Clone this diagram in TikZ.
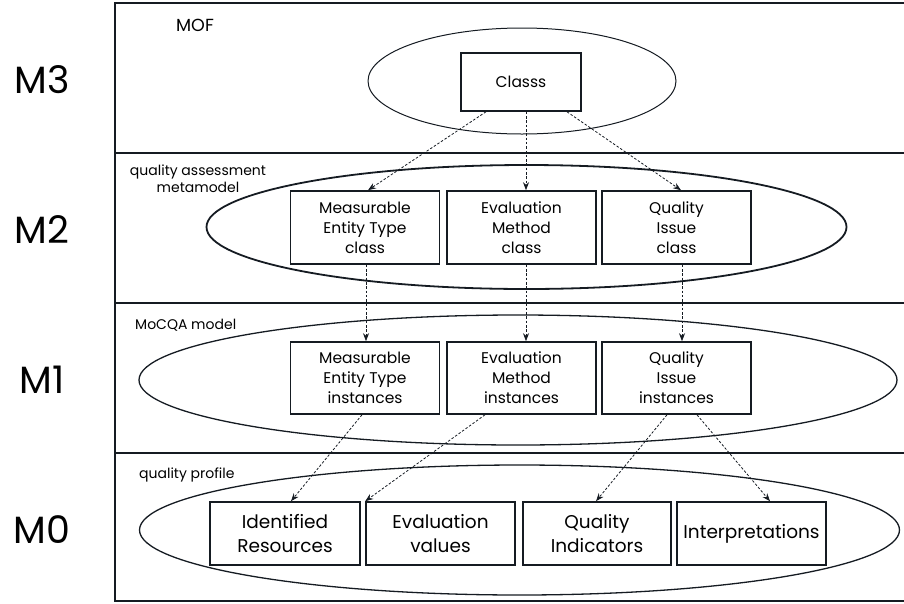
\documentclass[tikz,border=0pt]{standalone}
\usepackage{fontspec}
\setmainfont{Poppins}
\usetikzlibrary{arrows.meta,shapes.geometric}
\definecolor{ink}{HTML}{151B22}
\begin{document}
\begin{tikzpicture}[x=1pt,y=-1pt,
  frame/.style={draw=ink,line width=2.6pt},
  layer/.style={ellipse,draw=ink,line width=1.3pt,inner sep=0pt},
  cls/.style={draw=ink,line width=1.6pt,inner sep=0pt,align=center,
    minimum width=149pt,minimum height=73pt,font=\fontsize{15.5}{20}\selectfont},
  inst/.style={cls,minimum height=63pt,font=\fontsize{18.5}{24}\selectfont},
  lvl/.style={font=\fontsize{38}{40}\selectfont},
  tag/.style={font=\fontsize{14}{17}\selectfont,inner sep=0pt,align=center},
  link/.style={draw=ink,line width=0.8pt,dash pattern=on 2.5pt off 1.8pt,
    -{Stealth[length=8pt,width=6pt]}}
]
\useasboundingbox (0,0) rectangle (904,603);

% layer frame (open to the right)
\draw[frame] (910,3) -- (115,3) -- (115,601) -- (910,601);
\draw[frame] (115,153) -- (910,153);
\draw[frame] (115,303) -- (910,303);
\draw[frame] (115,453) -- (910,453);

% level names
\node[lvl] (m3) at (42,80) {M3};
\node[lvl] (m2) at (42,230) {M2};
\node[lvl] (m1) at (42,380) {M1};
\node[lvl] (m0) at (42,530) {M0};

% layer captions
\node[tag,font=\fontsize{17.5}{18}\selectfont] (mof) at (195,25) {MOF};
\node[tag] (qam) at (198,179) {quality assessment\\metamodel};
\node[tag,anchor=west] (mocqa) at (135,325) {MoCQA model};
\node[tag,anchor=west] (qp) at (139,475) {quality profile};

% layer ellipses
\node[layer,line width=1pt,minimum width=308pt,minimum height=106pt] (e3) at (522,81) {};
\node[layer,line width=1.8pt,minimum width=640pt,minimum height=124pt] (e2) at (526.5,227) {};
\node[layer,minimum width=758pt,minimum height=130pt] (e1) at (518,380) {};
\node[layer,minimum width=760pt,minimum height=130pt] (e0) at (519.5,530) {};

% M3
\node[cls,minimum width=120pt,minimum height=58pt] (classs) at (521,82) {Classs};

% M2
\node[cls] (mec) at (365,227.5) {Measurable\\Entity Type\\class};
\node[cls] (emc) at (521.5,227.5) {Evaluation\\Method\\class};
\node[cls] (qic) at (676.5,227.5) {Quality\\Issue\\class};

% M1
\node[cls,minimum height=72pt] (mei) at (365,378) {Measurable\\Entity Type\\instances};
\node[cls,minimum height=72pt] (emi) at (521.5,378) {Evaluation\\Method\\instances};
\node[cls,minimum height=72pt] (qii) at (676.5,378) {Quality\\Issue\\instances};

% M0
\node[inst,minimum width=150pt] (ir) at (285,533.5) {Identified\\Resources};
\node[inst] (ev) at (440.5,533.5) {Evaluation\\values};
\node[inst,minimum width=148pt] (qi) at (597,533.5) {Quality\\Indicators};
\node[inst] (interp) at (751.5,533.5) {Interpretations};

% instantiation links
\draw[link] ([xshift=-35pt]classs.south) -- ([xshift=3pt]mec.north);
\draw[link] ([xshift=5pt]classs.south) -- ([xshift=4.5pt]emc.north);
\draw[link] ([xshift=46pt]classs.south) -- ([xshift=4.5pt]qic.north);

\draw[link] ([xshift=1pt]mec.south) -- ([xshift=1pt]mei.north);
\draw[link] ([xshift=4.5pt]emc.south) -- ([xshift=4.5pt]emi.north);
\draw[link] ([xshift=5.5pt]qic.south) -- ([xshift=5.5pt]qii.north);

\draw[link] ([xshift=-3pt]mei.south) -- ([xshift=6pt]ir.north);
\draw[link] ([xshift=-36.5pt]emi.south) -- (ev.north west);
\draw[link] ([xshift=-9.5pt]qii.south) -- ([xshift=-1pt]qi.north);
\draw[link] ([xshift=20.5pt]qii.south) -- ([xshift=18.5pt]interp.north);
\end{tikzpicture}
\end{document}
